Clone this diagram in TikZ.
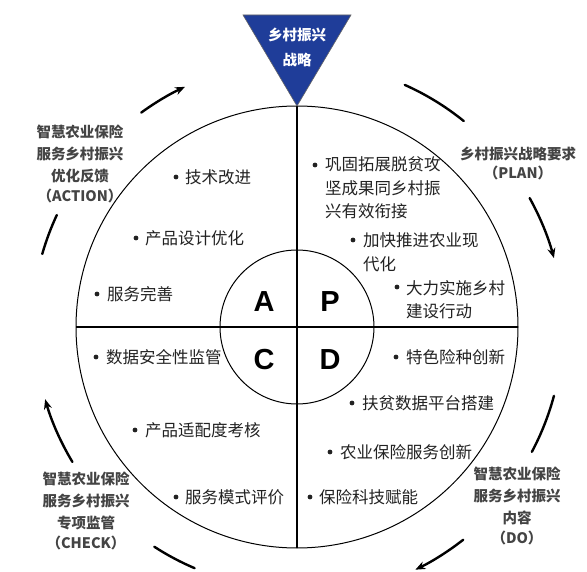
\documentclass[tikz,border=0pt]{standalone}
\usepackage{fontspec}
\setmainfont{Noto Sans CJK SC}
\newfontfamily\letterfont{Liberation Sans}
\usetikzlibrary{arrows.meta,calc}
\definecolor{triblue}{HTML}{1F3D99}
\definecolor{txt}{HTML}{222222}
\definecolor{lbl}{HTML}{444444}
\begin{document}
\begin{tikzpicture}[x=1pt,y=-1pt,
  body/.style={font=\fontsize{16.5}{23.5}\selectfont, text=txt, inner sep=0pt, align=left, anchor=west},
  lab/.style={font=\fontsize{14.5}{22}\selectfont\bfseries, text=lbl, inner sep=0pt, align=center},
  quad/.style={font=\letterfont\bfseries\fontsize{29}{29}\selectfont, text=black, inner sep=0pt},
  ringline/.style={line width=2.4pt, line cap=round},
  ringarrow/.style={ringline, -{Stealth[length=10pt,width=8pt]}},
  bul/.style={fill=txt}
]
\useasboundingbox (0,0) rectangle (587,572);
\fill[white] (0,0) rectangle (587,572);
\coordinate (O) at (297,327);
\node[circle, draw, line width=1pt, minimum size=442pt, inner sep=0pt, outer sep=0pt] (outer) at (O) {};
\node[circle, draw, line width=1pt, minimum size=154pt, inner sep=0pt, outer sep=0pt] (inner) at (O) {};
\draw[line width=1.2pt] (outer.north) -- (outer.south);
\draw[line width=1.2pt] (outer.west) -- (outer.east);
% triangle
\coordinate (tl) at (243,15);
\coordinate (tr) at (351,15);
\draw[fill=triblue, draw=black!60, line width=0.6pt] (tl) -- (tr) -- (outer.north) -- cycle;
\node[font=\fontsize{14.5}{25}\selectfont\bfseries, text=white, align=center, inner sep=0pt] (strat) at (297,47) {乡村振兴\\战略};
% quadrant letters
\node[quad] (A) at (264,302) {A};
\node[quad] (P) at (330,302) {P};
\node[quad] (C) at (264,360) {C};
\node[quad] (D) at (330,360) {D};
% ring arcs
\draw[ringline] ($(O)+(164:265pt)$) arc[start angle=164, end angle=155, radius=265pt];
\draw[ringarrow] ($(O)+(126:265pt)$) arc[start angle=126, end angle=115, radius=265pt];
\draw[ringline] ($(O)+(66:265pt)$) arc[start angle=66, end angle=51, radius=265pt];
\draw[ringarrow] ($(O)+(29:266pt)$) arc[start angle=29, end angle=15, radius=266pt];
\draw[ringline] ($(O)+(-15:266pt)$) arc[start angle=-15, end angle=-28, radius=266pt];
\draw[ringarrow] ($(O)+(-52:270pt)$) arc[start angle=-52, end angle=-64, radius=270pt];
\draw[ringline] ($(O)+(-113:262pt)$) arc[start angle=-113, end angle=-123, radius=262pt];
\draw[ringarrow] ($(O)+(-149:262pt)$) arc[start angle=-149, end angle=-164, radius=262pt];
% outer labels
\node[lab] (act) at (80,164) {智慧农业保险\\服务乡村振兴\\优化反馈\\[-2pt]（ACTION）};
\node[lab] (plan) at (518,163) {乡村振兴战略要求\\[-3pt]（PLAN）};
\node[lab] (chk) at (86,511) {智慧农业保险\\服务乡村振兴\\专项监管\\[-2pt]（CHECK）};
\node[lab] (do) at (517,506) {智慧农业保险\\服务乡村振兴\\内容\\[-2pt]（DO）};
% A items
\node[body] (a1) at (185,177) {技术改进};
\node[body] (a2) at (145,238) {产品设计优化};
\node[body] (a3) at (107,294) {服务完善};
\fill[bul] (176,177) circle (2.4pt);
\fill[bul] (136,238) circle (2.4pt);
\fill[bul] (97,294) circle (2.4pt);
% P items
\node[body] (p1) at (325,188) {巩固拓展脱贫攻\\坚成果同乡村振\\兴有效衔接};
\node[body] (p2) at (363,252) {加快推进农业现\\代化};
\node[body] (p3) at (406,299.5) {大力实施乡村\\建设行动};
\fill[bul] (315,165) circle (2.4pt);
\fill[bul] (353,240) circle (2.4pt);
\fill[bul] (397,287) circle (2.4pt);
% D items
\node[body] (d1) at (406,357) {特色险种创新};
\node[body] (d2) at (362,403) {扶贫数据平台搭建};
\node[body] (d3) at (340,452) {农业保险服务创新};
\node[body] (d4) at (319,497) {保险科技赋能};
\fill[bul] (396,357) circle (2.4pt);
\fill[bul] (352,403) circle (2.4pt);
\fill[bul] (330,452) circle (2.4pt);
\fill[bul] (310,497) circle (2.4pt);
% C items
\node[body] (c1) at (106,357) {数据安全性监管};
\node[body] (c2) at (145,430) {产品适配度考核};
\node[body] (c3) at (185,497) {服务模式评价};
\fill[bul] (96,357) circle (2.4pt);
\fill[bul] (135,430) circle (2.4pt);
\fill[bul] (176,497) circle (2.4pt);
\end{tikzpicture}
\end{document}
